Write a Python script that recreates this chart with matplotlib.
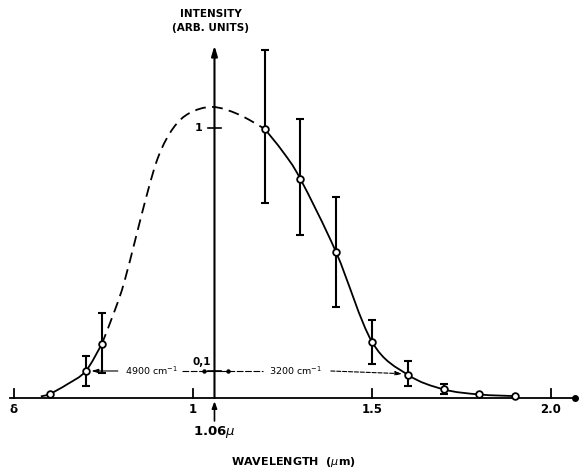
import numpy as np
import matplotlib
matplotlib.use('Agg')
import matplotlib.pyplot as plt
from matplotlib.path import Path
from matplotlib.patches import PathPatch

# ---- data ----
wavelength = [0.60, 0.70, 0.745, 1.20, 1.30, 1.40, 1.50, 1.60, 1.70, 1.80, 1.90]
intensity = [0.015, 0.099, 0.199, 0.997, 0.811, 0.539, 0.208, 0.086, 0.032, 0.013, 0.007]

err_wavelength = [0.70, 0.745, 1.20, 1.30, 1.40, 1.50, 1.60, 1.70]
err_low = [0.045, 0.093, 0.722, 0.604, 0.336, 0.125, 0.044, 0.015]
err_high = [0.157, 0.316, 1.29, 1.032, 0.743, 0.289, 0.137, 0.050]

# traced curves
solid_left_x = [0.575, 0.60, 0.649, 0.70, 0.745]
solid_left_y = [0.006, 0.015, 0.051, 0.099, 0.199]
dashed_x = [0.745, 0.782, 0.811, 0.871, 0.905, 0.945, 0.99, 1.054, 1.126, 1.20]
dashed_y = [0.199, 0.326, 0.444, 0.752, 0.90, 1.00, 1.055, 1.078, 1.051, 0.997]
solid_right_x = [1.20, 1.251, 1.30, 1.40, 1.50, 1.60, 1.70, 1.80, 1.90]
solid_right_y = [0.997, 0.912, 0.811, 0.539, 0.208, 0.086, 0.032, 0.013, 0.007]

xticks = [0.5, 1.0, 1.5, 2.0]
xtick_labels = ['δ', '1', '1.5', '2.0']
yticks = [0.1, 1.0]
ytick_labels = ['0,1', '1']
peak_wavelength = 1.06
fwhm_level = 0.1
left_width_label = '4900 cm$^{-1}$'
right_width_label = '3200 cm$^{-1}$'

# ---- figure ----
fig = plt.figure(figsize=(5.79, 4.71), dpi=100)
ax = fig.add_axes([0, 0, 1, 1])
ax.set_xlim(0.4609, 2.0782)
ax.set_ylim(-0.2704, 1.474)
ax.axis('off')

LW = 1.3
XSCALE = 358.0 / 270.0  # pixel aspect between x and y data units


def smooth_patch(xs, ys, **kw):
    p = np.column_stack([np.array(xs) * XSCALE, ys]).astype(float)
    n = len(p)
    verts = [p[0]]
    codes = [Path.MOVETO]
    for i in range(n - 1):
        p0 = p[i - 1] if i > 0 else p[i]
        p1 = p[i]
        p2 = p[i + 1]
        p3 = p[i + 2] if i + 2 < n else p[i + 1]
        c1 = p1 + (p2 - p0) / 6.0
        c2 = p2 - (p3 - p1) / 6.0
        verts += [c1, c2, p2]
        codes += [Path.CURVE4] * 3
    verts = np.array(verts)
    verts[:, 0] /= XSCALE
    return PathPatch(Path(verts, codes), fill=False, **kw)


# axes lines
ax.plot([0.49, 2.068], [0, 0], color='black', lw=1.3, zorder=2)
ax.plot([2.068], [0], 'o', color='black', ms=4, zorder=3)
ax.annotate('', xy=(peak_wavelength, 1.305), xytext=(peak_wavelength, 0.0),
            arrowprops=dict(arrowstyle='-|>,head_length=0.6,head_width=0.18',
                            color='black', lw=1.5, shrinkA=0, shrinkB=0))

# x ticks (upward)
for xt, lab in zip(xticks, xtick_labels):
    ax.plot([xt, xt], [0, 0.035], color='black', lw=1.3)
    ax.text(xt, -0.042, lab, ha='center', va='center', fontsize=8.5,
            fontweight='bold')

# y ticks (crossing)
for yt, lab in zip(yticks, ytick_labels):
    ax.plot([peak_wavelength - 0.018, peak_wavelength + 0.018], [yt, yt],
            color='black', lw=1.2)
ax.text(peak_wavelength - 0.035, 1.0, ytick_labels[1], ha='right', va='center',
        fontsize=8, fontweight='bold')
ax.text(peak_wavelength - 0.01, 0.135, ytick_labels[0], ha='right', va='center',
        fontsize=7.5, fontweight='bold')

# 1.06 marker arrow
ax.annotate('', xy=(peak_wavelength, -0.012), xytext=(peak_wavelength, -0.085),
            arrowprops=dict(arrowstyle='-|>,head_length=0.4,head_width=0.15',
                            color='black', lw=1.2, shrinkA=0, shrinkB=0))
ax.text(peak_wavelength, -0.125, '1.06$\\mu$', ha='center', va='center',
        fontsize=9.5, fontweight='bold')

# titles
ax.text(1.05, 1.424, 'INTENSITY', ha='center', va='center', fontsize=7.5,
        fontweight='bold')
ax.text(1.05, 1.37, '(ARB. UNITS)', ha='center', va='center', fontsize=7.5,
        fontweight='bold')
ax.text(1.28, -0.237, 'WAVELENGTH  ($\\mu$m)', ha='center', va='center',
        fontsize=8, fontweight='bold')

# curves
ax.add_patch(smooth_patch(solid_left_x, solid_left_y, color='black', lw=LW, zorder=3))
ax.add_patch(smooth_patch(solid_right_x, solid_right_y, color='black', lw=LW, zorder=3))
ax.add_patch(smooth_patch(dashed_x, dashed_y, color='black', lw=LW,
                          linestyle=(0, (6, 3.5)), zorder=3))

# error bars
err_center = [intensity[wavelength.index(w)] for w in err_wavelength]
yerr = [np.array(err_center) - np.array(err_low),
        np.array(err_high) - np.array(err_center)]
ax.errorbar(err_wavelength, err_center, yerr=yerr, fmt='none', ecolor='black',
            elinewidth=1.5, capsize=3, capthick=1.5, zorder=4)

# points
ax.plot(wavelength, intensity, 'o', ms=4.8, mfc='white', mec='black', mew=1.3,
        zorder=5)

# width markers at the 0.1 level
dash = (0, (6, 1.5))
ax.annotate('', xy=(0.716, fwhm_level), xytext=(0.79, fwhm_level),
            arrowprops=dict(arrowstyle='-|>,head_length=0.4,head_width=0.12',
                            color='black', lw=0.8, shrinkA=0, shrinkB=0))
ax.text(0.884, fwhm_level, left_width_label, ha='center', va='center', fontsize=6.8)
ax.plot([0.97, 1.032], [fwhm_level, fwhm_level], color='black', lw=0.8, linestyle=dash)
ax.plot([1.032, 1.097], [fwhm_level, fwhm_level], 'o', color='black', ms=2.2)
ax.plot([1.032, 1.097], [fwhm_level, fwhm_level], color='black', lw=0.8)
ax.plot([1.097, 1.195], [fwhm_level, fwhm_level], color='black', lw=0.8, linestyle=dash)
ax.text(1.285, fwhm_level, right_width_label, ha='center', va='center', fontsize=6.8)
ax.annotate('', xy=(1.585, fwhm_level - 0.01), xytext=(1.385, fwhm_level),
            arrowprops=dict(arrowstyle='-|>,head_length=0.4,head_width=0.12',
                            color='black', lw=0.8, linestyle='--',
                            shrinkA=0, shrinkB=0))

fig.savefig('out.png', dpi=100, facecolor='white')
